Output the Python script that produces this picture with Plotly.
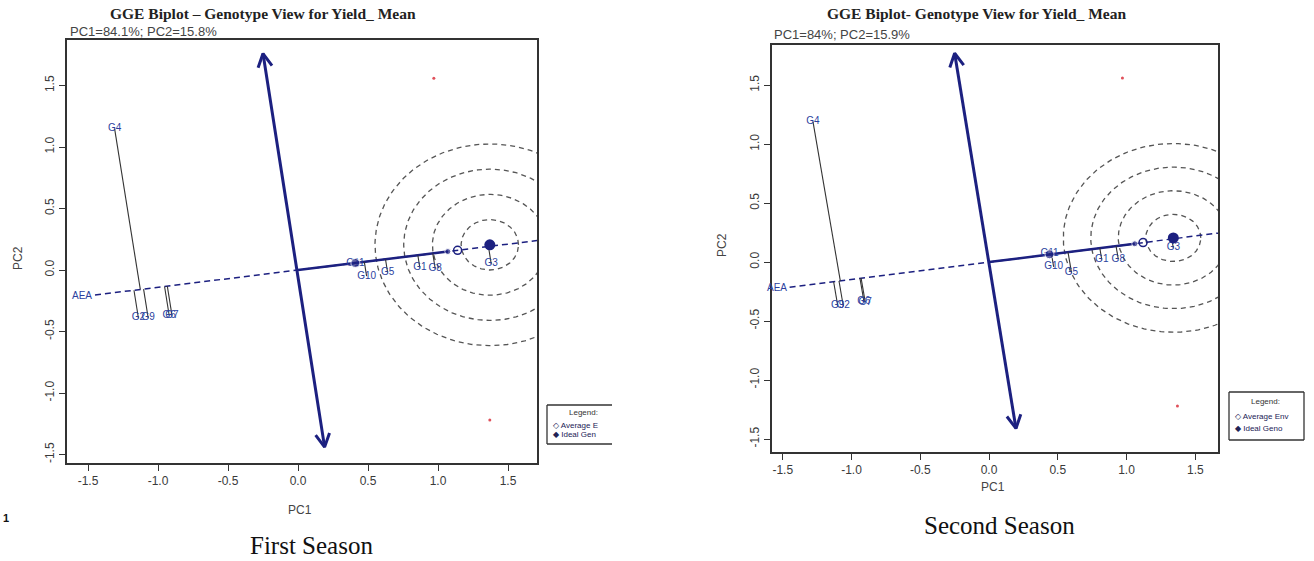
import numpy as np
import plotly.graph_objects as go

W, H = 1314, 561

# ---------------- First Season ----------------
s1_geno = ["G4", "G2", "G9", "G6", "G7", "G11", "G10", "G5", "G1", "G8", "G3"]
s1_pc1 = [-1.31, -1.14, -1.07, -0.92, -0.90, 0.41, 0.49, 0.64, 0.87, 0.98, 1.38]
s1_pc2 = [1.15, -0.39, -0.39, -0.37, -0.37, 0.055, -0.05, -0.02, 0.02, 0.01, 0.05]
s1_env_pc1 = [0.97, 1.37]
s1_env_pc2 = [1.56, -1.22]
s1_avg_env = [1.14, 0.16]
s1_ideal = [1.37, 0.205]
s1_dot_pc1 = [0.41, 1.07]
s1_dot_pc2 = [0.057, 0.15]
s1_axis_from = [0.19, -1.44]
s1_axis_to = [-0.25, 1.76]
s1_ring_radii = [0.205, 0.41, 0.615, 0.82]
s1_aea_start = -1.45
s1_title = "GGE Biplot – Genotype View for Yield_ Mean"
s1_sub = "PC1=84.1%; PC2=15.8%"
s1_caption = "First Season"

# ---------------- Second Season ----------------
s2_geno = ["G4", "G9", "G2", "G6", "G7", "G11", "G10", "G5", "G1", "G8", "G3"]
s2_pc1 = [-1.28, -1.10, -1.06, -0.91, -0.90, 0.44, 0.47, 0.60, 0.82, 0.94, 1.34]
s2_pc2 = [1.19, -0.37, -0.37, -0.33, -0.34, 0.075, -0.04, -0.09, 0.02, 0.025, 0.12]
s2_env_pc1 = [0.97, 1.37]
s2_env_pc2 = [1.56, -1.22]
s2_avg_env = [1.12, 0.165]
s2_ideal = [1.34, 0.205]
s2_dot_pc1 = [0.44, 1.06]
s2_dot_pc2 = [0.066, 0.155]
s2_axis_from = [0.196, -1.41]
s2_axis_to = [-0.25, 1.77]
s2_ring_radii = [0.2, 0.40, 0.60, 0.80]
s2_aea_start = -1.45
s2_title = "GGE Biplot- Genotype View for Yield_ Mean"
s2_sub = "PC1=84%; PC2=15.9%"
s2_caption = "Second Season"

tick_vals = [-1.5, -1.0, -0.5, 0.0, 0.5, 1.0, 1.5]
tick_text = ["-1.5", "-1.0", "-0.5", "0.0", "0.5", "1.0", "1.5"]

panels = [
    dict(geno=s1_geno, pc1=s1_pc1, pc2=s1_pc2, env1=s1_env_pc1, env2=s1_env_pc2,
         avg=s1_avg_env, ideal=s1_ideal, dot1=s1_dot_pc1, dot2=s1_dot_pc2,
         afrom=s1_axis_from, ato=s1_axis_to, radii=s1_ring_radii, aea0=s1_aea_start,
         title=s1_title, sub=s1_sub, caption=s1_caption,
         box=(67, 537, 40, 463), xr=(-1.65, 1.707), yr=(-1.569, 1.87),
         title_xy=(263, 14), sub_xy=(68, 32), pc1_xy=(300, 510), pc2_xy=(18, 258),
         cap_xy=(311, 545), leg=(547, 612, 405, 444), clip_leg=True),
    dict(geno=s2_geno, pc1=s2_pc1, pc2=s2_pc2, env1=s2_env_pc1, env2=s2_env_pc2,
         avg=s2_avg_env, ideal=s2_ideal, dot1=s2_dot_pc1, dot2=s2_dot_pc2,
         afrom=s2_axis_from, ato=s2_axis_to, radii=s2_ring_radii, aea0=s2_aea_start,
         title=s2_title, sub=s2_sub, caption=s2_caption,
         box=(772, 1218, 45, 452), xr=(-1.578, 1.665), yr=(-1.61, 1.84),
         title_xy=(976, 14), sub_xy=(772, 35), pc1_xy=(993, 487), pc2_xy=(722, 245),
         cap_xy=(999, 525), leg=(1229, 1304, 392, 440), clip_leg=False),
]

NAVY = "#1c2080"
BLUE = "#2b3f9e"
fig = go.Figure()
shapes = []
annotations = []


def px(x):
    return x / W


def py(y):
    return 1 - y / H


def note(x, y, text, size, color, family="Liberation Sans", xanchor="center", angle=0):
    annotations.append(dict(x=px(x), y=py(y), xref="paper", yref="paper", text=text,
                            showarrow=False, xanchor=xanchor, yanchor="middle", textangle=angle,
                            font=dict(family=family, size=size, color=color)))


for i, p in enumerate(panels):
    xa = "x" if i == 0 else "x2"
    ya = "y" if i == 0 else "y2"
    x0, x1, y0, y1 = p["box"]
    sx = (x1 - x0) / (p["xr"][1] - p["xr"][0])
    sy = (y1 - y0) / (p["yr"][1] - p["yr"][0])

    # concentric rings around ideal genotype
    th = np.linspace(0, 2 * np.pi, 240)
    for r in p["radii"]:
        fig.add_trace(go.Scatter(x=p["ideal"][0] + r * np.cos(th), y=p["ideal"][1] + r * np.sin(th),
                                 mode="lines", line=dict(color="#555555", width=1.3, dash="5px,4px"),
                                 hoverinfo="skip", xaxis=xa, yaxis=ya))

    ax, ay = p["avg"]
    slope = ay / ax
    xe = p["xr"][1]
    fig.add_trace(go.Scatter(x=[p["aea0"], xe], y=[p["aea0"] * slope, xe * slope], mode="lines",
                             line=dict(color=NAVY, width=1.5, dash="6px,4px"),
                             hoverinfo="skip", xaxis=xa, yaxis=ya))
    fig.add_trace(go.Scatter(x=[0, p["dot1"][1]], y=[0, p["dot2"][1]], mode="lines",
                             line=dict(color=NAVY, width=2.5), hoverinfo="skip", xaxis=xa, yaxis=ya))

    # projections of genotypes onto AEA
    g1 = np.array(p["pc1"]); g2 = np.array(p["pc2"])
    t = (g1 * ax + g2 * ay) / (ax * ax + ay * ay)
    lx, ly = [], []
    for k in range(len(g1)):
        lx += [g1[k], t[k] * ax, None]
        ly += [g2[k], t[k] * ay, None]
    fig.add_trace(go.Scatter(x=lx, y=ly, mode="lines", line=dict(color="#333333", width=1.1),
                             hoverinfo="skip", xaxis=xa, yaxis=ya))

    # ATC ordinate double-headed arrow
    fx, fy = p["afrom"]; tx, ty = p["ato"]
    fig.add_trace(go.Scatter(x=[fx, tx], y=[fy, ty], mode="lines", line=dict(color=NAVY, width=3),
                             hoverinfo="skip", xaxis=xa, yaxis=ya))
    for (ex, ey), (bx, by) in [((tx, ty), (fx, fy)), ((fx, fy), (tx, ty))]:
        dpx = np.array([(ex - bx) * sx, (ey - by) * sy])
        dpx = dpx / np.linalg.norm(dpx)
        hx, hy = [], []
        for ang in (np.radians(28), -np.radians(28)):
            c, s = np.cos(ang), np.sin(ang)
            w = np.array([c * dpx[0] - s * dpx[1], s * dpx[0] + c * dpx[1]])
            hx.append(ex - 15 * w[0] / sx)
            hy.append(ey - 15 * w[1] / sy)
        fig.add_trace(go.Scatter(x=[hx[0], ex, hx[1]], y=[hy[0], ey, hy[1]], mode="lines",
                                 line=dict(color=NAVY, width=3), hoverinfo="skip", xaxis=xa, yaxis=ya))

    fig.add_trace(go.Scatter(x=p["pc1"], y=p["pc2"], mode="text", text=p["geno"],
                             textfont=dict(family="Liberation Sans", size=10, color=BLUE),
                             hoverinfo="skip", xaxis=xa, yaxis=ya))
    fig.add_trace(go.Scatter(x=p["dot1"], y=p["dot2"], mode="markers",
                             marker=dict(color=NAVY, size=[9, 6]), hoverinfo="skip", xaxis=xa, yaxis=ya))
    fig.add_trace(go.Scatter(x=[ax], y=[ay], mode="markers",
                             marker=dict(symbol="circle-open", color=NAVY, size=8, line=dict(width=1.5)),
                             hoverinfo="skip", xaxis=xa, yaxis=ya))
    fig.add_trace(go.Scatter(x=[p["ideal"][0]], y=[p["ideal"][1]], mode="markers",
                             marker=dict(symbol="circle", color=NAVY, size=11),
                             hoverinfo="skip", xaxis=xa, yaxis=ya))
    fig.add_trace(go.Scatter(x=p["env1"], y=p["env2"], mode="markers",
                             marker=dict(symbol="circle", color="#e0505a", size=3),
                             hoverinfo="skip", xaxis=xa, yaxis=ya))
    annotations.append(dict(x=p["aea0"], y=p["aea0"] * slope, xref=xa, yref=ya, text="AEA",
                            showarrow=False, xanchor="right", yanchor="middle", xshift=-1,
                            font=dict(family="Liberation Sans", size=10, color=BLUE)))

    axcommon = dict(showline=True, mirror=True, linecolor="#333333", linewidth=1.5,
                    ticks="outside", ticklen=6, tickwidth=1.2, tickcolor="#333333",
                    tickvals=tick_vals, ticktext=tick_text, showgrid=False, zeroline=False,
                    tickfont=dict(family="Liberation Sans", size=12, color="#3a3a3a"))
    fig.layout["xaxis" if i == 0 else "xaxis2"] = dict(axcommon, range=list(p["xr"]),
                                                      domain=[px(x0), px(x1)], anchor=ya)
    fig.layout["yaxis" if i == 0 else "yaxis2"] = dict(axcommon, range=list(p["yr"]),
                                                      domain=[py(y1), py(y0)], anchor=xa, tickangle=-90)

    note(p["title_xy"][0], p["title_xy"][1], "<b>" + p["title"] + "</b>", 15.5, "#222222", "Liberation Serif")
    note(p["sub_xy"][0], p["sub_xy"][1], p["sub"], 13, "#444444", xanchor="left")
    note(p["pc1_xy"][0], p["pc1_xy"][1], "PC1", 12, "#444444")
    note(p["pc2_xy"][0], p["pc2_xy"][1], "PC2", 12, "#444444", angle=-90)
    note(p["cap_xy"][0], p["cap_xy"][1], p["caption"], 25, "#111111", "Liberation Serif")

    # legend box
    lx0, lx1, ly0, ly1 = p["leg"]
    lc = "#333333"
    segs = [(lx0, lx1, ly0, ly0), (lx0, lx1, ly1, ly1), (lx0, lx0, ly0, ly1)]
    if not p["clip_leg"]:
        segs.append((lx1, lx1, ly0, ly1))
    for a0, a1, b0, b1 in segs:
        shapes.append(dict(type="line", xref="paper", yref="paper", x0=px(a0), x1=px(a1),
                           y0=py(b0), y1=py(b1), line=dict(color=lc, width=1.3)))
    lw = 75
    hgt = ly1 - ly0
    env_txt = "◇ Average Env" if not p["clip_leg"] else "◇ Average E"
    geno_txt = "◆ Ideal Geno" if not p["clip_leg"] else "◆ Ideal Gen"
    note(lx0 + lw * 0.48, ly0 + hgt * 0.2, "Legend:", 8, "#333333")
    note(lx0 + 4, ly0 + hgt * 0.52, env_txt, 8, "#222255", xanchor="left")
    note(lx0 + 4, ly0 + hgt * 0.75, geno_txt, 8, "#222255", xanchor="left")

note(6, 518, "<b>1</b>", 11, "#111111")

fig.update_layout(width=W, height=H, margin=dict(l=0, r=0, t=0, b=0),
                  paper_bgcolor="white", plot_bgcolor="white", showlegend=False,
                  shapes=shapes, annotations=annotations)
fig.write_html("out.html")
